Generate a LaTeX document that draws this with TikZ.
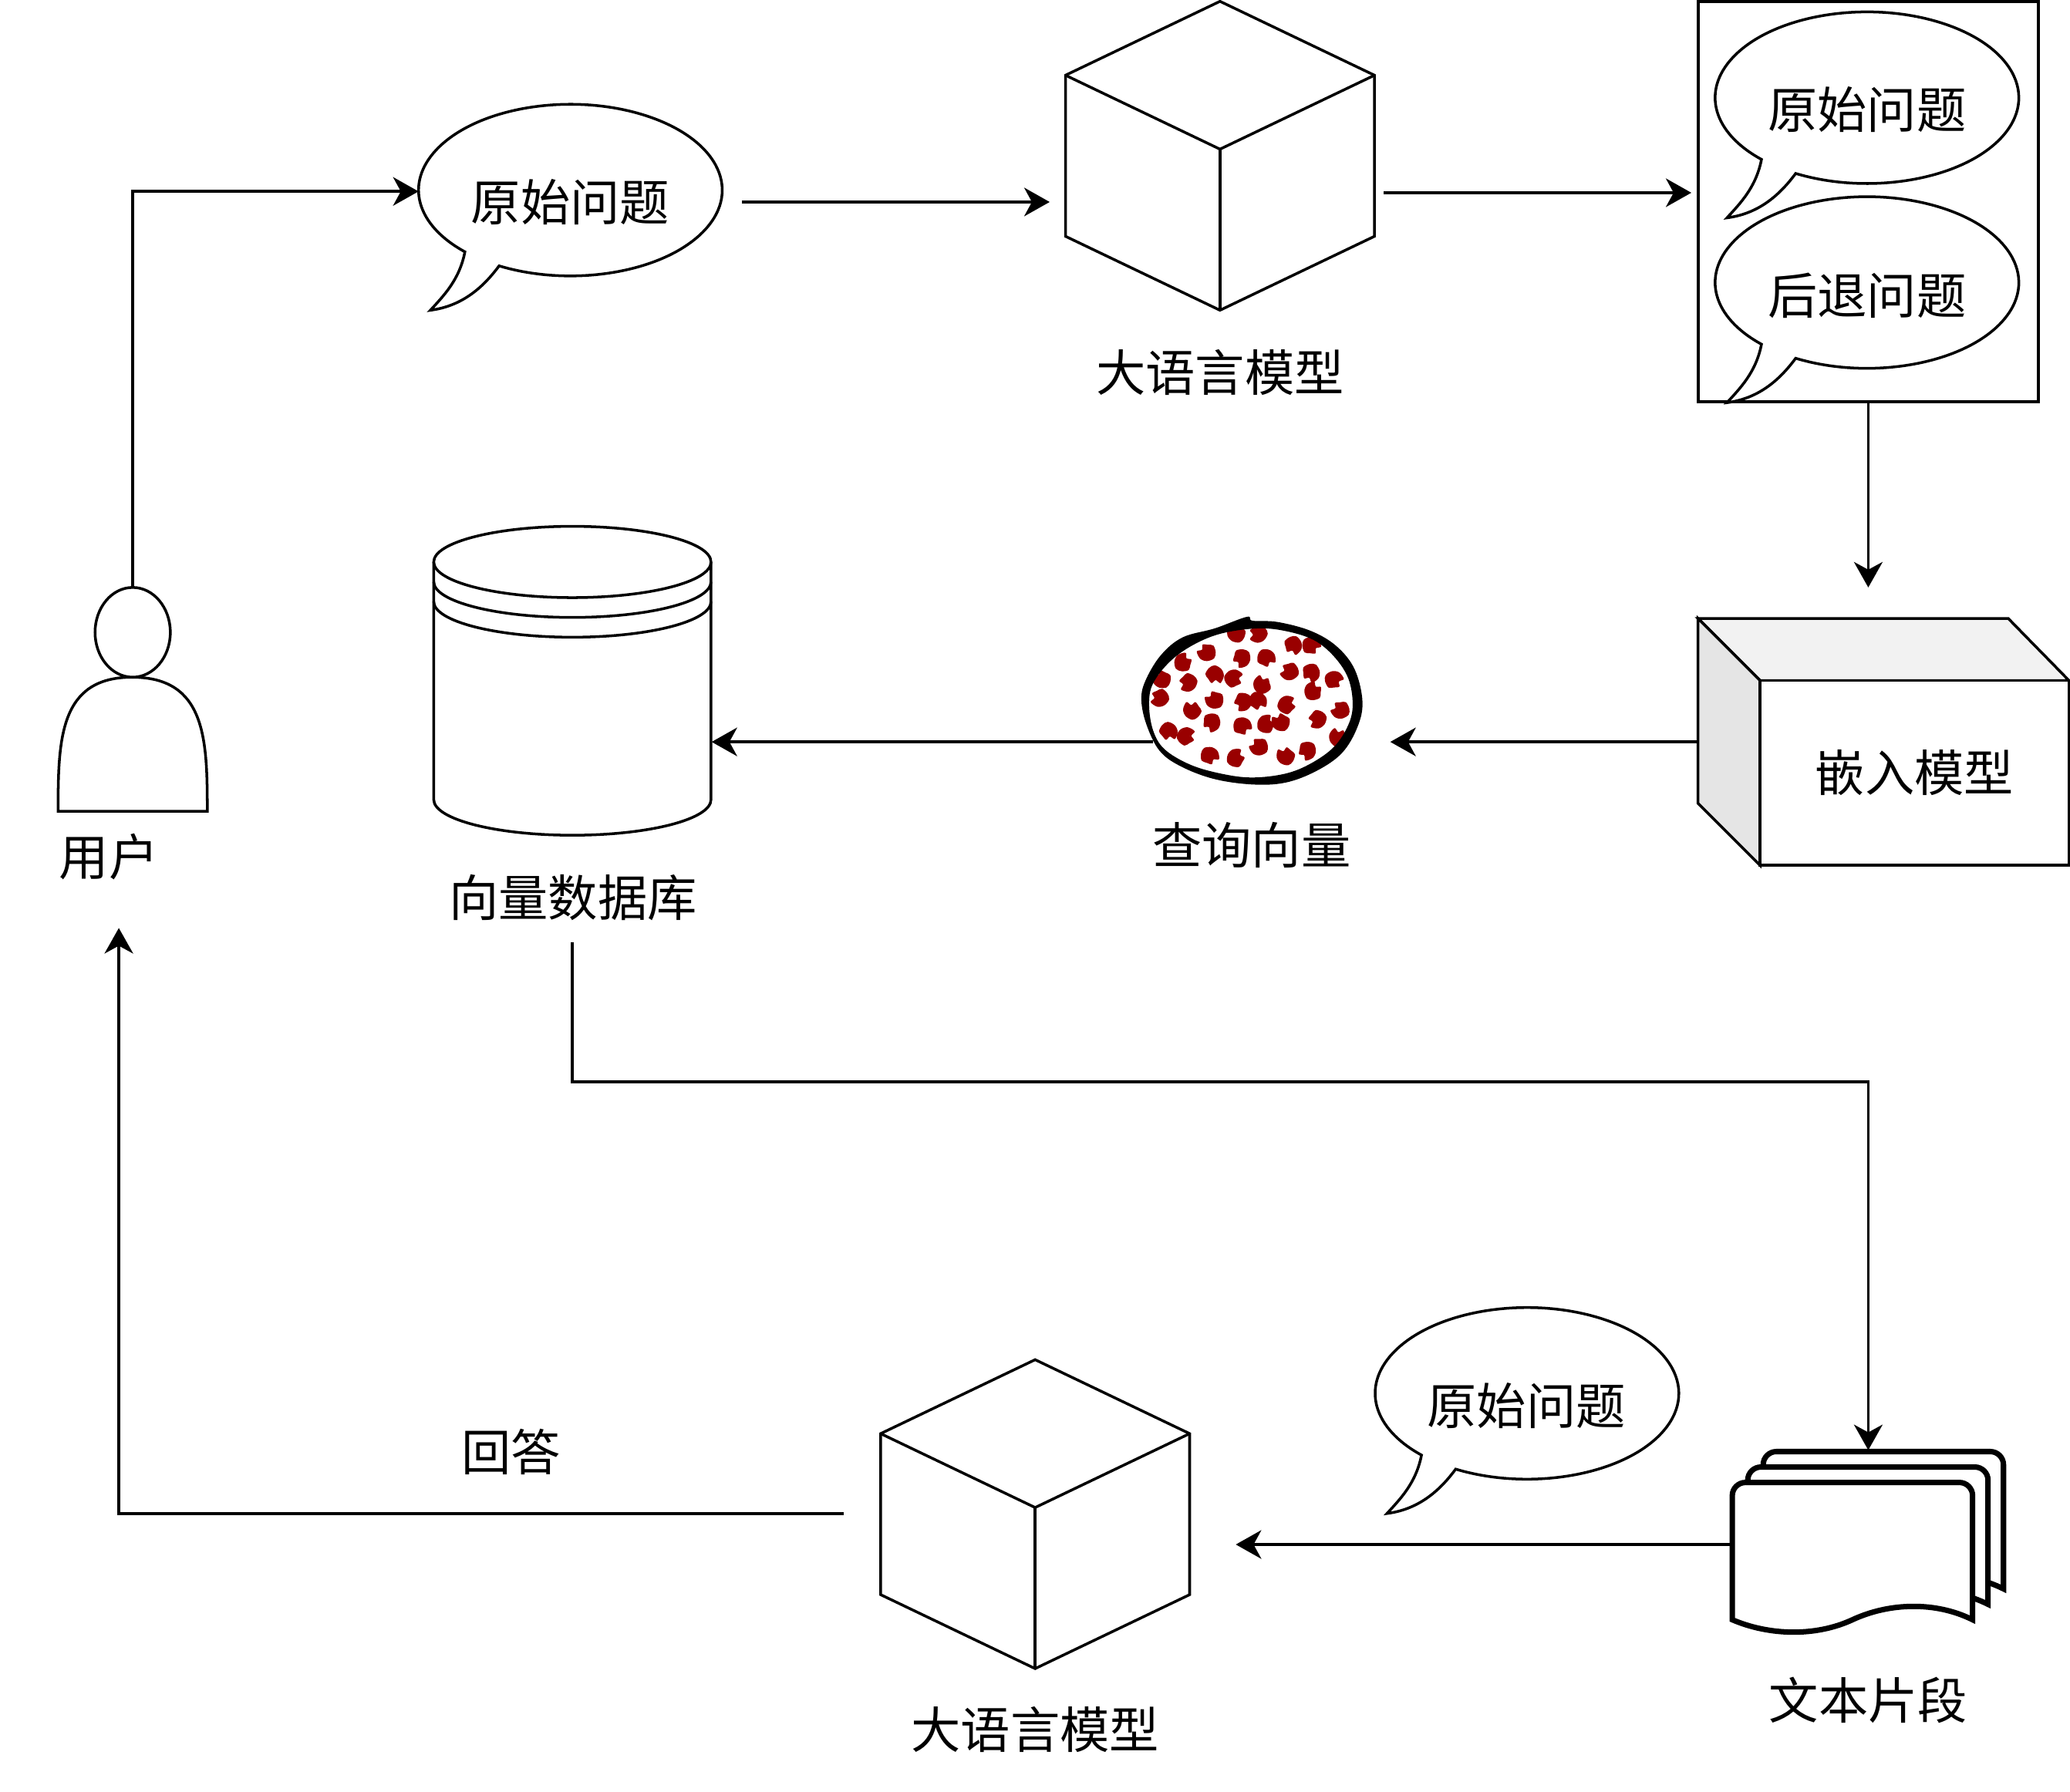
\documentclass[tikz,border=0pt]{standalone}
\usepackage{fontspec}
\setmainfont{Noto Sans CJK SC}
\usepackage{tikz}
\usetikzlibrary{arrows.meta,shapes.geometric}

\definecolor{vecred}{HTML}{990000}
\tikzset{
  lbl/.style={font=\fontsize{18.3}{22}\selectfont, inner sep=0pt},
  pics/speech/.style={code={
    \draw[fill=white, line width=1pt] (242:115 and 65) arc [start angle=242, end angle=586, x radius=115, y radius=65]
      .. controls (-84,-68) and (-96,-80) .. (-106,-91)
      .. controls (-83,-88) and (-67,-75) .. cycle;
  }},
  pics/llmcube/.style={code={
    \draw[fill=white, line width=1pt] (0,0) -- (117,-56) -- (117,-178) -- (0,-234) -- (-117,-178) -- (-117,-56) -- cycle;
    \draw[line width=1pt] (-117,-56) -- (0,-112) -- (117,-56);
    \draw[line width=1pt] (0,-112) -- (0,-234);
  }},
}

\begin{document}
\begin{tikzpicture}[x=0.01712cm, y=0.01712cm, line width=1pt, >={Stealth[length=3.3mm, width=3.7mm, inset=1mm]}]
        \useasboundingbox (0, 0) rectangle (1567.8, -1357.5);

        % user
        \draw (44, -614.5) .. controls (44, -560) and (45, -513) .. (100, -513)
          .. controls (156, -513) and (157, -560) .. (157, -614.5) -- cycle;
        \node[draw, ellipse, fill=white, minimum width=0.976cm, minimum height=1.164cm, inner sep=0pt] (userhead) at (100.5, -479) {};
        \node[lbl] (userlabel) at (82.5, -649) {用户};
        \coordinate (userin) at (90, -703);

        % first question and model
        \pic at (432, -144) {speech};
        \node[lbl] (question) at (432, -153) {原始问题};
        \coordinate (bubblein) at (317, -145);
        \coordinate (bubbleout) at (562, -153);
        \pic at (924, -1) {llmcube};
        \node[lbl] (llmlabel) at (924, -282) {大语言模型};
        \coordinate (llmin) at (795, -153);
        \coordinate (llmout) at (1048, -146);

        % question box
        \node[draw, fill=white, line width=1.15pt, minimum width=4.41cm, minimum height=5.19cm, inner sep=0pt] (qbox) at (1415, -152.7) {};
        \pic at (1414, -74) {speech};
        \node[lbl] (qorig) at (1414, -83) {原始问题};
        \pic at (1414, -214) {speech};
        \node[lbl] (qback) at (1414, -224) {后退问题};
        \coordinate (qboxin) at (1281, -146);

        % embedding model
        \draw[fill=black!5] (1286, -468.5) -- (1521, -468.5) -- (1567, -515.5) -- (1333, -515.5) -- cycle;
        \draw[fill=black!10] (1286, -468.5) -- (1333, -515.5) -- (1333, -655.5) -- (1286, -608.5) -- cycle;
        \node[draw, lbl, fill=white, minimum width=4.006cm, minimum height=2.397cm] (embed) at (1450, -585.5) {嵌入模型};
        \coordinate (embedin) at (1415, -445);
        \coordinate (embedout) at (1286, -562);

        % query vector
        \begin{scope}[shift={(841.1, -455.6)}, scale=0.1947]
          \fill[white] plot[smooth cycle, tension=0.6] coordinates {(150,-400) (165,-320) (230,-235) (320,-170) (430,-125) (570,-105) (680,-115) (790,-150) (870,-215) (925,-300) (942,-400) (925,-480) (870,-565) (780,-630) (680,-670) (550,-685) (430,-670) (310,-635) (210,-575) (165,-500)};
          \foreach \x/\y/\a in {490/125/10, 575/125/80, 710/170/150, 780/172/220, 375/198/40, 282/238/300, 510/220/120, 605/220/200, 200/303/20, 302/315/90, 405/285/170, 478/300/250, 590/325/330, 697/272/60, 780/277/140, 868/305/230, 788/350/310, 192/375/70, 405/383/30, 515/390/110, 572/387/190, 685/403/270, 318/424/350, 895/422/50, 393/470/130, 512/485/210, 605/478/290, 663/470/15, 805/458/95, 225/505/175, 293/525/255, 885/530/335, 578/565/45, 765/580/125, 385/600/205, 487/610/285, 682/602/5} {
            \fill[vecred, shift={(\x, -\y)}, rotate=\a] plot[smooth cycle, tension=0.55] coordinates {(36,4) (22,20) (6,34) (-8,20) (-28,28) (-36,-2) (-22,-26) (6,-36) (26,-22)};
          }
          \fill[black, even odd rule] plot[smooth cycle, tension=0.6] coordinates {(120,-385) (135,-310) (195,-210) (280,-140) (405,-105) (530,-60) (552,-75) (650,-80) (780,-115) (880,-175) (950,-265) (980,-390) (960,-490) (900,-590) (800,-660) (680,-705) (550,-712) (400,-690) (270,-640) (190,-580) (140,-480)}
            plot[smooth cycle, tension=0.6] coordinates {(150,-400) (165,-320) (230,-235) (320,-170) (430,-125) (570,-105) (680,-115) (790,-150) (870,-215) (925,-300) (942,-400) (925,-480) (870,-565) (780,-630) (680,-670) (550,-685) (430,-670) (310,-635) (210,-575) (165,-500)};
        \end{scope}
        \node[lbl] (vectorlabel) at (948, -640) {查询向量};
        \coordinate (vectorin) at (1053, -562);
        \coordinate (vectorout) at (873, -562);

        % vector database
        \draw[fill=white] (328.5, -425.7) -- (328.5, -605.7) arc [start angle=180, end angle=360, x radius=105, y radius=27] -- (538.5, -425.7);
        \draw[fill=white] (433.5, -425.7) ellipse [x radius=105, y radius=27];
        \foreach \d in {15, 30} {
          \draw (328.5, -425.7-\d) arc [start angle=180, end angle=360, x radius=105, y radius=27];
        }
        \node[lbl] (dblabel) at (434, -680) {向量数据库};
        \coordinate (dbin) at (539, -562);
        \coordinate (dbout) at (433.5, -714);

        % text chunks
        \foreach \d in {2, 1, 0} {
          \draw[fill=white, line width=2pt, shift={(\d*11.7, \d*11.7)}] (1312, -1227) -- (1312, -1133)
            arc [start angle=180, end angle=90, radius=10] -- (1484, -1123)
            arc [start angle=90, end angle=0, radius=10] -- (1494, -1227)
            .. controls (1466, -1213) and (1431, -1214) .. (1403, -1227)
            .. controls (1375, -1240) and (1340, -1239) .. (1312, -1227) -- cycle;
        }
        \node[lbl] (chunklabel) at (1415, -1288) {文本片段};
        \coordinate (chunkin) at (1415, -1098.5);
        \coordinate (chunkout) at (1311, -1170);

        % second question and model
        \pic at (1156.5, -1055.5) {speech};
        \node[lbl] (question2) at (1156, -1065) {原始问题};
        \pic at (784, -1030) {llmcube};
        \node[lbl] (llmlabel2) at (784, -1310) {大语言模型};
        \coordinate (llm2in) at (936, -1170);
        \coordinate (llm2out) at (639, -1146.5);
        \node[lbl] (answer) at (387, -1100) {回答};

        % connectors
        \draw[->] (userhead.north) |- (bubblein);
        \draw[->] (bubbleout) -- (llmin);
        \draw[->] (llmout) -- (qboxin);
        \draw[->] (qbox.south) -- (embedin);
        \draw[->] (embedout) -- (vectorin);
        \draw[->] (vectorout) -- (dbin);
        \draw[->] (dbout) -- (433.5, -819.5) -| (chunkin);
        \draw[->] (chunkout) -- (llm2in);
        \draw[->] (llm2out) -| (userin);
      \end{tikzpicture}
\end{document}
